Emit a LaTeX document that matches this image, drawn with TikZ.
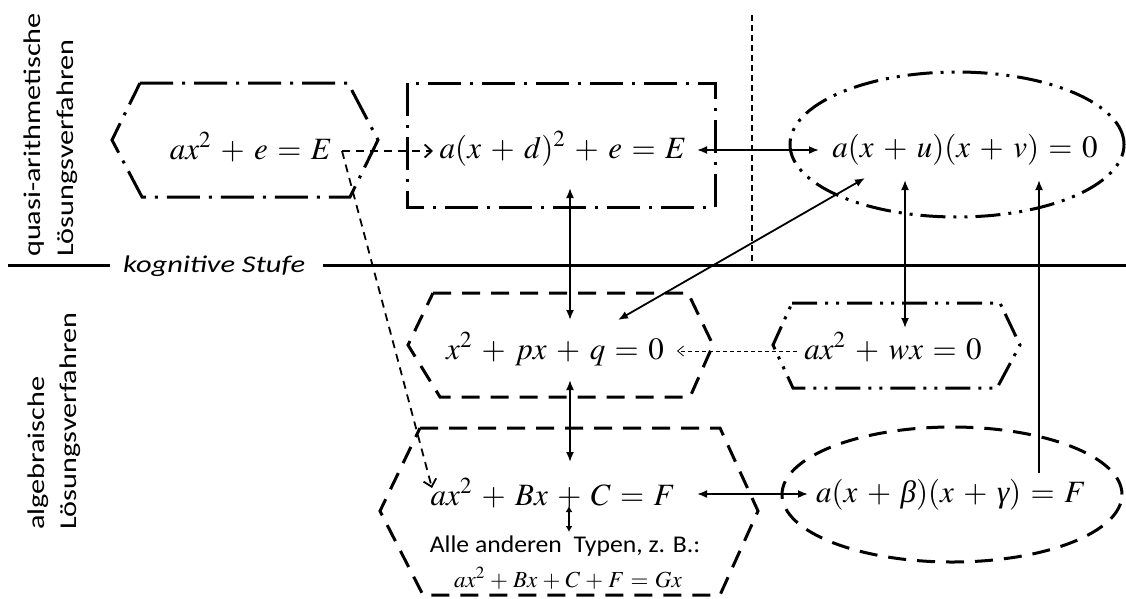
\documentclass[tikz,border=0pt]{standalone}
\usepackage{mathptmx}
\usepackage[no-math]{fontspec}
\usepackage{graphicx}
\setmainfont{Liberation Serif}
\newfontfamily\calfont{Carlito}
\usetikzlibrary{arrows.meta}
\newcommand{\gk}[1]{\mbox{\itshape #1}}
\tikzset{
  ddot/.style={line width=3pt, dash pattern=on 33pt off 9pt on 3pt off 9pt},
  dddot/.style={line width=3pt, dash pattern=on 25pt off 8pt on 3pt off 8pt on 3pt off 8pt},
  dsh/.style={line width=3pt, dash pattern=on 18pt off 11pt},
  arr/.style={line width=1.8pt, -{Latex[length=10pt,width=8pt]}},
  darr/.style={line width=1.8pt, {Latex[length=10pt,width=8pt]}-{Latex[length=10pt,width=8pt]}},
  sdarr/.style={line width=1.8pt, {Latex[length=6pt,width=7pt]}-{Latex[length=6pt,width=7pt]}},
  dasharr/.style={line width=1.8pt, dash pattern=on 8pt off 6pt, -{Straight Barb[length=7pt,width=13pt]}},
  thinarr/.style={line width=0.8pt, dash pattern=on 4pt off 3pt, -{Straight Barb[length=6pt,width=10pt]}},
  eq/.style={font=\fontsize{31}{36}\selectfont, inner sep=0pt, anchor=base,
    execute at begin node={\medmuskip=5.5mu\thickmuskip=5.5mu}},
  lab/.style={font=\calfont\fontsize{24}{28}\selectfont, inner sep=0pt, rotate=90, anchor=base west},
}
\begin{document}
\begin{tikzpicture}[x=1pt,y=-1pt]
\useasboundingbox (0,0) rectangle (1126,598);
% side labels
\node[lab] (q1) at (40,257) {\scalebox{1.26}[1]{quasi-arithmetische}};
\node[lab] (q2) at (73,257) {\scalebox{1.26}[1]{Lösungsverfahren}};
\node[lab] (a1) at (44,530) {\scalebox{1.26}[1]{algebraische}};
\node[lab] (a2) at (76,530) {\scalebox{1.26}[1]{Lösungsverfahren}};
% cognitive level line
\node[font=\calfont\itshape\fontsize{24}{28}\selectfont, inner sep=0pt, anchor=base west] (ks) at (123,272) {\scalebox{1.27}[1]{kognitive Stufe}};
\coordinate (l0) at (8,265);
\coordinate (l1) at (110,265);
\coordinate (l2) at (323,265);
\coordinate (l3) at (1126,265);
\draw[line width=3pt] (l0) -- (l1);
\draw[line width=3pt] (l2) -- (l3);
\coordinate (v0) at (752,15);
\coordinate (v1) at (752,266);
\draw[line width=1.5pt, dash pattern=on 6pt off 4pt] (v0) -- (v1);
% shapes
\draw[ddot] (140,83) -- (348,83) -- (378,140) -- (350,197) -- (142,197) -- (112,140) -- cycle;
\draw[ddot] (407,83) rectangle (715,207);
\draw[dddot] (957,144.5) ellipse [x radius=167pt, y radius=72.5pt];
\draw[dsh] (433,293) -- (688,293) -- (713,345) -- (690,397) -- (440,397) -- (408,345) -- cycle;
\draw[dddot] (792,303) -- (1000,303) -- (1020,345) -- (997,388) -- (793,388) -- (773,345) -- cycle;
\draw[dsh] (420,428) -- (720,428) -- (758,511) -- (720,595) -- (423,595) -- (380,511) -- cycle;
\draw[dsh] (952,494.5) ellipse [x radius=170pt, y radius=67.5pt];
% texts
\node[eq] (t1) at (251,159) {$ax^2+e=E$};
\node[eq] (t2) at (563,158) {$a(x+d)^2+e=E$};
\node[eq] (t3) at (965,157) {$a(x+u)(x+v)=0$};
\node[eq] (t4) at (555,359) {$x^2+px+q=0$};
\node[eq] (t5) at (893,359) {$ax^2+wx=0$};
\node[eq] (t6) at (553,505) {$ax^2+Bx+C=F$};
\node[font=\calfont\fontsize{24}{28}\selectfont, inner sep=0pt, anchor=base] (t7) at (565,552) {\scalebox{1.07}[1]{Alle anderen~ Typen, z. B.:}};
\node[eq, font=\fontsize{23}{28}\selectfont, execute at begin node={\medmuskip=4mu\thickmuskip=5mu}] (t8) at (568,587) {$ax^2+Bx+C+F=Gx$};
\node[eq] (t9) at (951,502) {$a(x+\gk{β})(x+\gk{γ})=F$};
% connector end points
\coordinate (c1) at (342,151);
\coordinate (c2) at (433,151);
\coordinate (c3) at (432,488);
\coordinate (r1) at (697,150);
\coordinate (e1) at (819,150);
\coordinate (r2) at (570,188);
\coordinate (h2a) at (570,320);
\coordinate (h2b) at (618,320);
\coordinate (e2) at (865,178);
\coordinate (e3) at (905,180);
\coordinate (h3a) at (905,328);
\coordinate (h3b) at (797,351);
\coordinate (h2c) at (677,351);
\coordinate (h2d) at (570,380);
\coordinate (h4a) at (570,462);
\coordinate (h4b) at (569,506);
\coordinate (h4c) at (569,532);
\coordinate (h4d) at (697,494);
\coordinate (e4) at (808,494);
\coordinate (e5) at (1039,473);
\coordinate (e6) at (1039,180);
% connectors
\draw[dasharr] (c1) -- (c2);
\draw[dasharr] (c1) -- (c3);
\draw[darr] (r1) -- (e1);
\draw[darr] (r2) -- (h2a);
\draw[darr] (h2b) -- (e2);
\draw[darr] (e3) -- (h3a);
\draw[thinarr] (h3b) -- (h2c);
\draw[darr] (h2d) -- (h4a);
\draw[sdarr] (h4b) -- (h4c);
\draw[darr] (h4d) -- (e4);
\draw[arr] (e5) -- (e6);
\end{tikzpicture}
\end{document}
